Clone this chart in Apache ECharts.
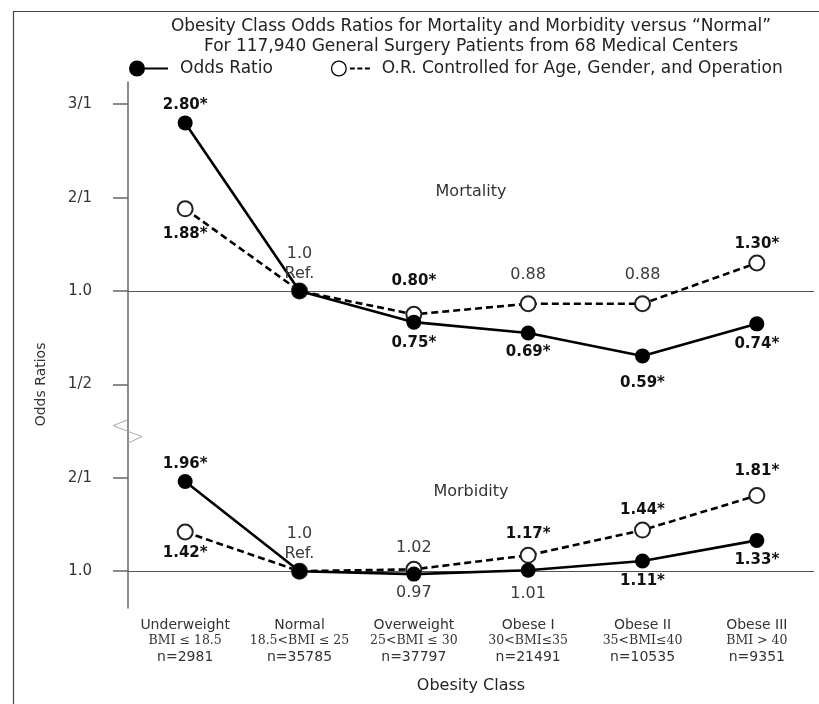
<!DOCTYPE html>
<html><head><meta charset="utf-8">
<script src="https://cdn.jsdelivr.net/npm/echarts@6/dist/echarts.min.js"></script>
<style>html,body{margin:0;padding:0;background:#fff}#c{width:819px;height:704px}</style>
</head><body><div id="c"></div>
<script>
// ---------------- data ----------------
const categories  = ['Underweight', 'Normal', 'Overweight', 'Obese I', 'Obese II', 'Obese III'];
const bmiRanges   = ['BMI ≤ 18.5', '18.5<BMI ≤ 25', '25<BMI ≤ 30', '30<BMI≤35', '35<BMI≤40', 'BMI > 40'];
const sampleSizes = ['n=2981', 'n=35785', 'n=37797', 'n=21491', 'n=10535', 'n=9351'];

const mortalityOR       = [2.80, 1.0, 0.75, 0.69, 0.59, 0.74];
const mortalityAdjOR    = [1.88, 1.0, 0.80, 0.88, 0.88, 1.30];
const morbidityOR       = [1.96, 1.0, 0.97, 1.01, 1.11, 1.33];
const morbidityAdjOR    = [1.42, 1.0, 1.02, 1.17, 1.44, 1.81];

const mortalityORText    = ['2.80*', '1.0\nRef.', '0.75*', '0.69*', '0.59*', '0.74*'];
const mortalityAdjORText = ['1.88*', '', '0.80*', '0.88', '0.88', '1.30*'];
const morbidityORText    = ['1.96*', '1.0\nRef.', '0.97', '1.01', '1.11*', '1.33*'];
const morbidityAdjORText = ['1.42*', '', '1.02', '1.17*', '1.44*', '1.81*'];

const yTicksTopOR    = [3, 2, 1, 0.5];
const yTicksTopText  = ['3/1', '2/1', '1.0', '1/2'];
const yTicksBotOR    = [2, 1];
const yTicksBotText  = ['2/1', '1.0'];

const seriesNames = ['Odds Ratio', 'O.R. Controlled for Age, Gender, and Operation'];

// ---------------- label placement (style, not data) ----------------
const mortalityORSide    = ['top', 'top', 'bottom', 'bottom', 'bottom', 'bottom'];
const mortalityORGap     = [1.5, 0, 4.5, 3, 10.5, 3.5];
const mortalityAdjSide   = ['bottom', 'top', 'top', 'top', 'top', 'top'];
const mortalityAdjGap    = [7.5, 0, 15.5, 11.5, 11.5, 1.5];
const morbidityORSide    = ['top', 'top', 'bottom', 'bottom', 'bottom', 'bottom'];
const morbidityORGap     = [0.5, 0, 2.5, 7.5, 3.5, 3.5];
const morbidityAdjSide   = ['bottom', 'top', 'top', 'top', 'top', 'top'];
const morbidityAdjGap    = [3.5, 0, 3.5, 3.5, 2.5, 6.5];

// ratio scale: OR>=1 -> OR-1 ; OR<1 -> 1-1/OR  (so 2/1 and 1/2 are symmetric)
function toScale(or) { return or >= 1 ? or - 1 : 1 - 1 / or; }
const PANEL_SHIFT = -3;   // morbidity panel sits 3 ratio-units below mortality

const FONT = 'DejaVu Sans';
const GRID = { left: 128, top: 82, right: 5, bottom: 96 };

const tickVals = yTicksTopOR.map(toScale).concat(yTicksBotOR.map(v => toScale(v) + PANEL_SHIFT));
const tickText = yTicksTopText.concat(yTicksBotText);

function buildData(ors, texts, sides, gaps, shift) {
  return ors.map((v, i) => {
    const t = texts[i];
    const bold = t.indexOf('*') >= 0;
    const isRef = t.indexOf('Ref') >= 0;
    return {
      value: toScale(v) + shift,
      label: {
        show: t !== '',
        formatter: t,
        position: sides[i],
        distance: gaps[i],
        fontFamily: FONT,
        fontSize: bold ? 15 : 16,
        fontWeight: bold ? 'bold' : 'normal',
        lineHeight: isRef ? 20 : 18,
        color: bold ? '#111' : '#3a3a3a'
      }
    };
  });
}

function solidSeries(data, withRefLines) {
  const s = {
    type: 'line', name: seriesNames[0], data: data, z: 4,
    symbol: 'circle', symbolSize: 15,
    itemStyle: { color: '#000' },
    lineStyle: { color: '#000', width: 2.6 },
    emphasis: { disabled: true }
  };
  if (withRefLines) {
    s.markLine = {
      silent: true, symbol: 'none', z: 1,
      label: { show: false },
      lineStyle: { color: '#555', width: 1.2, type: 'solid' },
      data: [{ yAxis: toScale(1) }, { yAxis: toScale(1) + PANEL_SHIFT }]
    };
  }
  return s;
}
function dashedSeries(data) {
  return {
    type: 'line', name: seriesNames[1], data: data, z: 3,
    symbol: 'emptyCircle', symbolSize: 15,
    itemStyle: { color: '#222', borderWidth: 1.2 },
    lineStyle: { color: '#000', width: 2.6, type: [7, 4] },
    emphasis: { disabled: true }
  };
}

const chart = echarts.init(document.getElementById('c'));

const gridCx = GRID.left + (819 - GRID.left - GRID.right) / 2;

const option = {
  animation: false,
  backgroundColor: '#fff',
  title: {
    text: 'Obesity Class Odds Ratios for Mortality and Morbidity versus “Normal”\nFor 117,940 General Surgery Patients from 68 Medical Centers',
    left: gridCx - 5, top: 12, padding: 5,
    textAlign: 'center',
    textStyle: { fontFamily: FONT, fontSize: 17, fontWeight: 'normal', lineHeight: 20, color: '#222' }
  },
  legend: {
    left: 129, top: 60, itemGap: 58, padding: 0,
    itemWidth: 39, itemHeight: 16,
    selectedMode: false,
    itemStyle: { borderWidth: 0 },
    textStyle: { fontFamily: FONT, fontSize: 17, color: '#222', padding: [0, 0, 0, 7] },
    data: [
      { name: seriesNames[0], icon: 'path://M0,8A8,8,0,1,1,16,8A8,8,0,1,1,0,8Z M15,7H39V9H15Z', itemStyle: { color: '#000' } },
      { name: seriesNames[1], icon: 'path://M0,8A8,8,0,1,1,16,8A8,8,0,1,1,0,8Z M1.3,8A6.7,6.7,0,1,0,14.7,8A6.7,6.7,0,1,0,1.3,8Z M19,7H24V9H19Z M26.5,7H31.5V9H26.5Z M34,7H39V9H34Z', itemStyle: { color: '#000' } }
    ]
  },
  grid: { left: GRID.left, top: GRID.top, right: GRID.right, bottom: GRID.bottom, containLabel: false },
  xAxis: {
    type: 'category', data: categories, boundaryGap: true,
    axisLine: { show: false }, axisTick: { show: false }, splitLine: { show: false },
    name: 'Obesity Class', nameLocation: 'middle', nameGap: 70,
    nameTextStyle: { fontFamily: FONT, fontSize: 16, color: '#222' },
    axisLabel: {
      interval: 0, margin: 9,
      formatter: (v, i) => '{a|' + v + '}\n{b|' + bmiRanges[i] + '}\n{c|' + sampleSizes[i] + '}',
      rich: {
        a: { fontFamily: FONT, fontSize: 14, lineHeight: 16, color: '#333' },
        b: { fontFamily: 'DejaVu Serif', fontSize: 12.5, lineHeight: 16, color: '#333' },
        c: { fontFamily: FONT, fontSize: 14, lineHeight: 16, color: '#333' }
      }
    }
  },
  yAxis: {
    type: 'value', min: -3.394, max: 2.238,
    axisLine: { show: true, lineStyle: { color: '#666', width: 1.5 } },
    axisTick: { show: true, customValues: tickVals, length: 15, lineStyle: { color: '#666', width: 1.5 } },
    splitLine: { show: false },
    axisLabel: {
      customValues: tickVals, margin: 36, color: '#333', fontFamily: FONT, fontSize: 15,
      formatter: v => { for (let i = 0; i < tickVals.length; i++) if (Math.abs(tickVals[i] - v) < 1e-6) return tickText[i]; return ''; }
    }
  },
  series: [
    dashedSeries(buildData(mortalityAdjOR, mortalityAdjORText, mortalityAdjSide, mortalityAdjGap, 0)),
    solidSeries(buildData(mortalityOR, mortalityORText, mortalityORSide, mortalityORGap, 0), true),
    dashedSeries(buildData(morbidityAdjOR, morbidityAdjORText, morbidityAdjSide, morbidityAdjGap, PANEL_SHIFT)),
    solidSeries(buildData(morbidityOR, morbidityORText, morbidityORSide, morbidityORGap, PANEL_SHIFT), false)
  ]
};
chart.setOption(option);

// decorations positioned from the axis scale
const yBreak = chart.convertToPixel({ yAxisIndex: 0 }, (toScale(0.5) + toScale(2) + PANEL_SHIFT) / 2);
const yMort  = chart.convertToPixel({ yAxisIndex: 0 }, 1.06);
const yMorb  = chart.convertToPixel({ yAxisIndex: 0 }, 0.85 + PANEL_SHIFT);
const yName  = chart.convertToPixel({ yAxisIndex: 0 }, toScale(0.5));

chart.setOption({
  graphic: [
    { type: 'polyline', silent: true, shape: { points: [[13.5, 704], [13.5, 11.5], [819, 11.5]] }, style: { stroke: '#444', lineWidth: 1.2, fill: null } },
    { type: 'polyline', silent: true, z: 10, shape: { points: [[GRID.left - 1, yBreak - 11], [GRID.left - 15, yBreak - 5.5], [GRID.left + 14, yBreak + 5.5], [GRID.left, yBreak + 12]] }, style: { stroke: '#aaa', lineWidth: 1, fill: null } },
    { type: 'text', silent: true, x: gridCx, y: yMort, style: { text: 'Mortality', fontFamily: FONT, fontSize: 16, fill: '#333', textAlign: 'center', textVerticalAlign: 'middle' } },
    { type: 'text', silent: true, x: gridCx, y: yMorb, style: { text: 'Morbidity', fontFamily: FONT, fontSize: 16, fill: '#333', textAlign: 'center', textVerticalAlign: 'middle' } },
    { type: 'text', silent: true, x: 41, y: yName, rotation: Math.PI / 2, style: { text: 'Odds Ratios', fontFamily: FONT, fontSize: 14, fill: '#333', textAlign: 'center', textVerticalAlign: 'middle' } }
  ]
});
</script>
</body></html>
